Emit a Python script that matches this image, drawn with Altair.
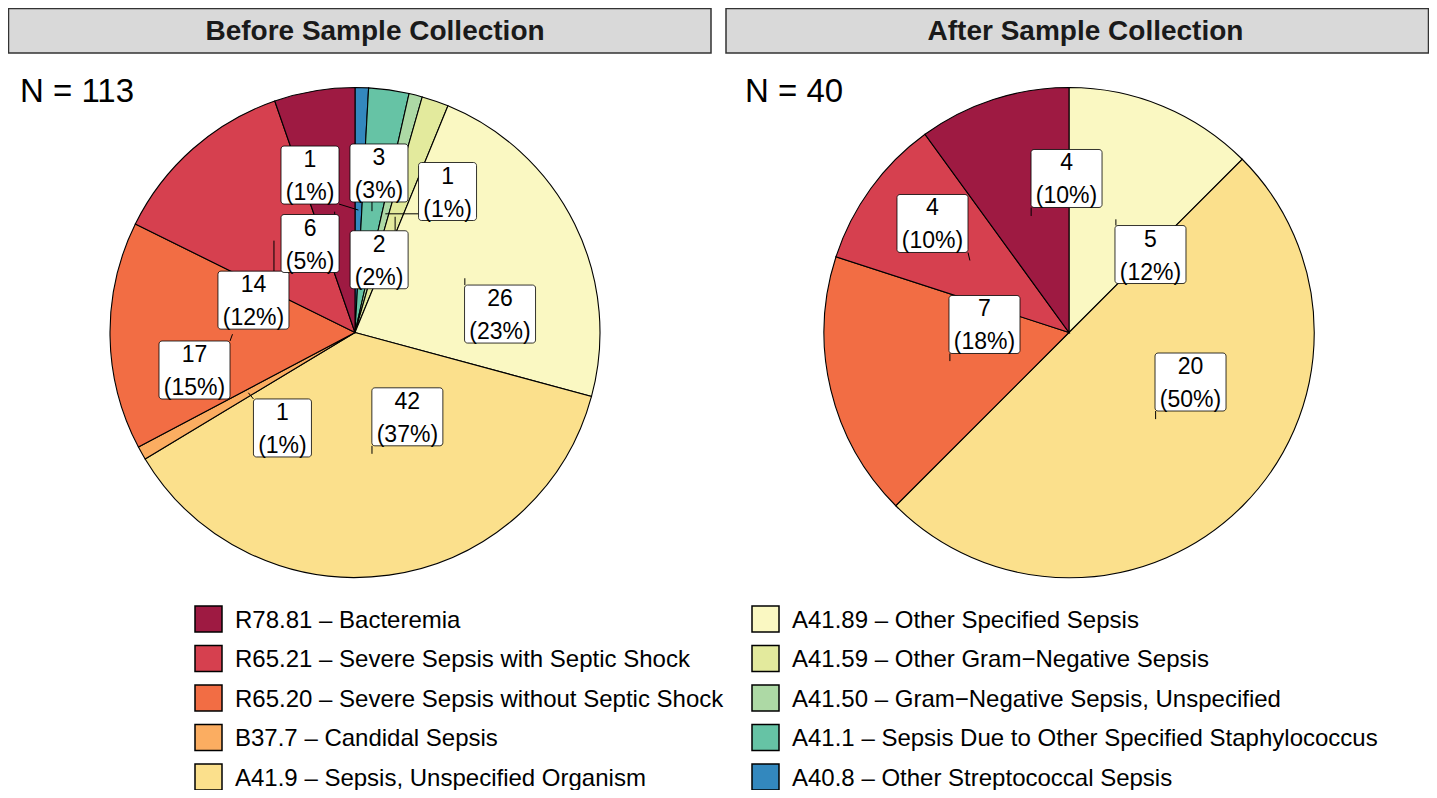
import altair as alt
import pandas as pd
import numpy as np

# ---------------- data ----------------
codes = ["R78.81", "R65.21", "R65.20", "B37.7", "A41.9",
         "A41.89", "A41.59", "A41.50", "A41.1", "A40.8"]
descriptions = ["Bacteremia", "Severe Sepsis with Septic Shock",
                "Severe Sepsis without Septic Shock", "Candidal Sepsis",
                "Sepsis, Unspecified Organism", "Other Specified Sepsis",
                "Other Gram\u2212Negative Sepsis", "Gram\u2212Negative Sepsis, Unspecified",
                "Sepsis Due to Other Specified Staphylococcus", "Other Streptococcal Sepsis"]
panels = ["Before Sample Collection", "After Sample Collection"]
before_counts = [6, 14, 17, 1, 42, 26, 2, 1, 3, 1]
after_counts = [4, 4, 7, 0, 20, 5, 0, 0, 0, 0]

# ---------------- style / layout ----------------
colors = ["#9E1A42", "#D6404F", "#F26D44", "#FBAD61", "#FBE08C",
          "#FAF8C2", "#E3EA9D", "#ADD9A5", "#66C3A5", "#3388BE"]
FONT = "Liberation Sans"
W, H = 1421, 782
R = 245
centers = [(347, 324.5), (1061, 324.5)]
strips = [(0.5, 703), (718, 1420.5)]
strip_text_x = [367, 1077.5]
n_pos = [(12, 94), (737, 94)]
# label-box offsets from their slice anchors (repel-like placement), legend order
nudges = [
    [(-24.6, 31.8), (-20.5, 59.5), (-38, 35.8), (34.1, 35.2), (35.4, -37),
     (35.2, 35.8), (-16, 43), (62.2, -22.3), (7, -38.2), (-48.4, -35)],
    [(35.4, -37.5), (-37.4, -37), (34.6, -36.6), (0, 0), (34.9, -37.1),
     (34.6, 35.2), (0, 0), (0, 0), (0, 0), (0, 0)],
]
BOX_H = 58

# ---------------- tables ----------------
slice_rows, label_rows, seg_rows = [], [], []
for p, counts in enumerate([before_counts, after_counts]):
    total = sum(counts)
    cx, cy = centers[p]
    cum = 0
    for i in reversed(range(len(codes))):  # clockwise from 12 o'clock
        v = counts[i]
        if v == 0:
            continue
        slice_rows.append({"panel": panels[p], "code": codes[i], "count": v,
                           "ord": len(codes) - i})
        mid = (cum + v / 2) / total * 2 * np.pi
        cum += v
        ax = cx + 0.5 * R * np.sin(mid)
        ay = cy - 0.5 * R * np.cos(mid)
        pct = f"({round(100 * v / total)}%)"
        bw = 13 * len(pct) + 6
        dx, dy = nudges[p][i]
        bx, by = ax + dx, ay + dy
        x0, x1, y0, y1 = bx - bw / 2, bx + bw / 2, by - BOX_H / 2, by + BOX_H / 2
        label_rows.append({"panel": panels[p], "code": codes[i], "n": str(v), "pct": pct,
                           "bx": bx, "by": by, "x0": x0, "x1": x1, "y0": y0, "y1": y1})
        ex = min(max(ax, x0), x1)
        ey = min(max(ay, y0), y1)
        if np.hypot(ex - ax, ey - ay) > 2:
            seg_rows.append({"ax": ax, "ay": ay, "ex": ex, "ey": ey})

slices = pd.DataFrame(slice_rows)
labels = pd.DataFrame(label_rows)
segs = pd.DataFrame(seg_rows)

header_df = pd.DataFrame({
    "title": panels,
    "x0": [s[0] for s in strips], "x1": [s[1] for s in strips],
    "xm": strip_text_x,
    "y0": [0.5, 0.5], "y1": [45, 45], "yt": [31.5, 31.5],
})
n_df = pd.DataFrame({"txt": [f"N = {sum(before_counts)}", f"N = {sum(after_counts)}"],
                     "x": [q[0] for q in n_pos], "y": [q[1] for q in n_pos]})

leg_rows = []
for i, (c, d) in enumerate(zip(codes, descriptions)):
    col, row = divmod(i, 5)
    kx = 187 if col == 0 else 744
    ry = 611 + 39.5 * row
    leg_rows.append({"code": c, "label": f"{c} \u2013 {d}",
                     "kx0": kx, "kx1": kx + 27, "ky0": ry - 13, "ky1": ry + 13,
                     "tx": kx + 40, "ty": ry + 8.6})
leg = pd.DataFrame(leg_rows)

# ---------------- encodings ----------------
xs = alt.Scale(domain=[0, W], nice=False, zero=False)
ys = alt.Scale(domain=[0, H], nice=False, zero=False, reverse=True)
color_scale = alt.Scale(domain=codes, range=colors)


def X(f):
    return alt.X(f, type="quantitative", scale=xs, axis=None)


def Y(f):
    return alt.Y(f, type="quantitative", scale=ys, axis=None)


headers = alt.Chart(header_df).mark_rect(fill="#D9D9D9", stroke="#333333", strokeWidth=1.5).encode(
    x=X("x0"), x2="x1", y=Y("y0"), y2="y1")
header_txt = alt.Chart(header_df).mark_text(font=FONT, fontSize=28, fontWeight="bold",
                                            color="#1A1A1A", align="center",
                                            baseline="alphabetic").encode(
    x=X("xm"), y=Y("yt"), text="title:N")
n_txt = alt.Chart(n_df).mark_text(font=FONT, fontSize=33, color="black", align="left",
                                  baseline="alphabetic").encode(
    x=X("x"), y=Y("y"), text="txt:N")

pies = []
for p in range(2):
    cx, cy = centers[p]
    pies.append(
        alt.Chart(slices[slices.panel == panels[p]]).mark_arc(
            outerRadius=R, stroke="black", strokeWidth=1.1).encode(
            theta=alt.Theta("count:Q", stack=True),
            order=alt.Order("ord:Q", sort="ascending"),
            color=alt.Color("code:N", scale=color_scale, legend=None),
            x=alt.value(cx), y=alt.value(cy))
    )

seg = alt.Chart(segs).mark_rule(color="black", strokeWidth=1).encode(
    x=X("ax"), y=Y("ay"), x2="ex", y2="ey")
boxes = alt.Chart(labels).mark_rect(fill="white", stroke="black", strokeWidth=0.8,
                                    cornerRadius=3).encode(
    x=X("x0"), x2="x1", y=Y("y0"), y2="y1")
lab_n = alt.Chart(labels).mark_text(font=FONT, fontSize=23, color="black", align="center",
                                    baseline="alphabetic", dy=-8).encode(
    x=X("bx"), y=Y("by"), text="n:N")
lab_p = alt.Chart(labels).mark_text(font=FONT, fontSize=23, color="black", align="center",
                                    baseline="alphabetic", dy=25).encode(
    x=X("bx"), y=Y("by"), text="pct:N")

leg_keys = alt.Chart(leg).mark_rect(stroke="black", strokeWidth=1.5).encode(
    x=X("kx0"), x2="kx1", y=Y("ky0"), y2="ky1",
    color=alt.Color("code:N", scale=color_scale, legend=None))
leg_txt = alt.Chart(leg).mark_text(font=FONT, fontSize=24, color="black", align="left",
                                   baseline="alphabetic").encode(
    x=X("tx"), y=Y("ty"), text="label:N")

chart = alt.layer(
    headers, header_txt, n_txt, pies[0], pies[1], seg, boxes, lab_n, lab_p, leg_keys, leg_txt
).resolve_scale(theta="independent").properties(
    width=W, height=H, padding=0, autosize=alt.AutoSizeParams(type="none")
).configure_view(stroke=None)

chart.save("out.html", embed_options={"renderer": "svg", "actions": False})
